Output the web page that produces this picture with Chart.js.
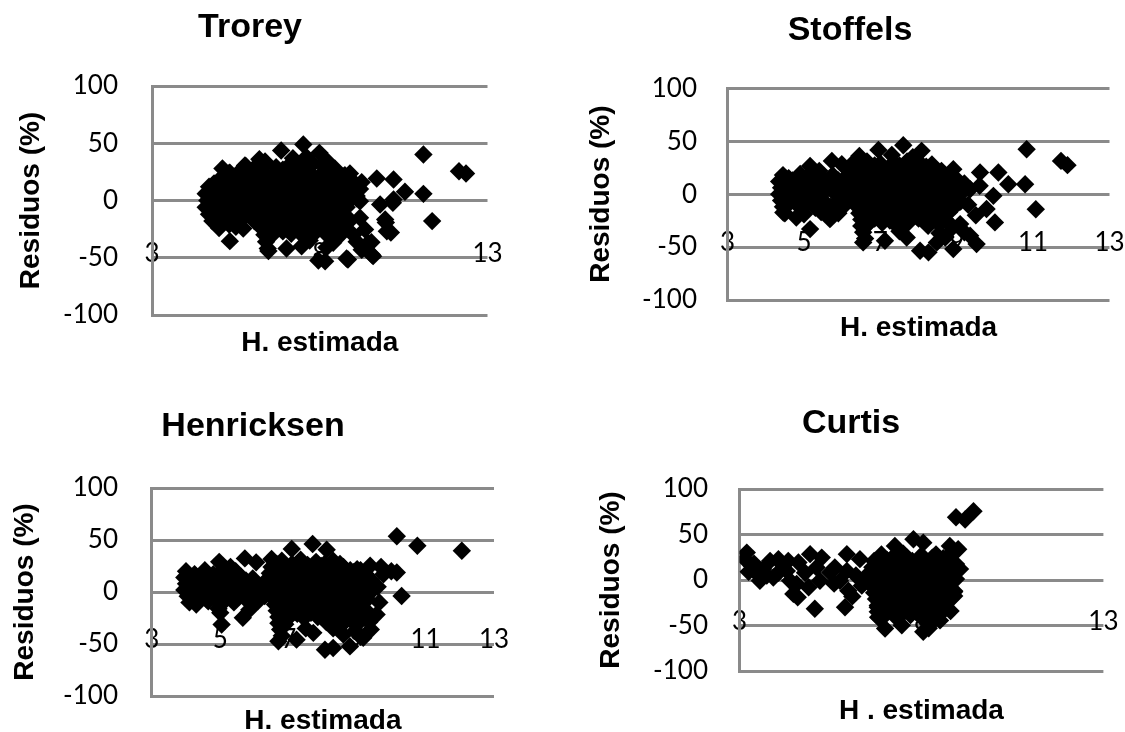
<!DOCTYPE html>
<html>
<head>
<meta charset="utf-8">
<title>Residuos (%) vs H. estimada</title>
<script src="https://cdn.jsdelivr.net/npm/chart.js@4.4.1/dist/chart.umd.min.js"></script>
<style>
  html, body { margin: 0; padding: 0; background: #fff; overflow: hidden; width: 1125px; height: 732px; }
  canvas { position: absolute; left: 0; top: 0; }
  .title {
    position: absolute;
    font: bold 34px "Liberation Sans", Arial, sans-serif;
    line-height: 1;
    color: #000;
    white-space: nowrap;
    transform: translate(-50%, -50%);
  }
</style>
</head>
<body>
<canvas id="c1" width="1125" height="800"></canvas>
<canvas id="c2" width="1125" height="800"></canvas>
<canvas id="c3" width="1125" height="800"></canvas>
<canvas id="c4" width="1125" height="800"></canvas>
<div class="title" style="left:250px;top:25px">Trorey</div>
<div class="title" style="left:850px;top:28px">Stoffels</div>
<div class="title" style="left:253px;top:424px">Henricksen</div>
<div class="title" style="left:851px;top:421px">Curtis</div>

<script>
// ===========================
// DATA
// ===========================
const panelTitles = ['Trorey', 'Stoffels', 'Henricksen', 'Curtis'];
const xTitles = ['H. estimada', 'H. estimada', 'H. estimada', 'H . estimada'];
const yTitle = 'Residuos (%)';
const xMin = 3, xMax = 13;
const xTickSteps = [5, 2, 2, 5];
const yTicks = [-100, -50, 0, 50, 100];

// [H. estimada, residuo %]
const troreyPts = [
  [6.2,36],[7.2,37],[7.6,38],[8.2,35],
  [5.8,30],[6.35,31],[6.7,29],[7.1,31],[7.45,30],[7.8,32],[8.15,29],[8.45,28],
  [6.0,27],[6.9,27],[7.6,26],[8.3,27],
  [5.3,24],[5.6,25],[5.95,23],[6.3,25],[6.65,24],[7.0,23],[7.35,25],[7.7,24],[8.05,23],[8.4,25],[8.75,22],
  [5.2,21],[5.8,21],[6.25,20],[6.6,21],[6.95,21],[7.3,20],[7.65,21],[8.0,21],[8.35,20],[8.7,21],
  [5.0,18],[5.4,19],[5.75,17],[6.1,18],[6.45,19],[6.8,17],[7.15,18],[7.5,19],[7.85,17],[8.2,18],[8.55,19],[8.9,17],[9.25,16],
  [4.85,15],[5.2,15],[5.55,14],[5.95,15],[6.3,15],[6.6,14],[6.95,15],[7.3,15],[7.7,14],[8.05,15],[8.4,15],[8.75,14],[9.05,15],
  [4.7,12],[5.05,13],[5.4,11],[5.75,12],[6.1,13],[6.45,11],[6.8,12],[7.15,13],[7.5,11],[7.85,12],[8.2,13],[8.55,11],[8.9,12],[9.2,10],
  [4.8,9],[5.2,9],[5.55,8],[5.9,9],[6.25,9],[6.6,8],[6.95,9],[7.3,9],[7.65,8],[8.0,9],[8.35,9],[8.7,8],[9.05,9],
  [4.6,6],[4.9,7],[5.25,5],[5.6,6],[5.95,7],[6.3,5],[6.65,6],[7.0,7],[7.35,5],[7.7,6],[8.05,7],[8.4,5],[8.75,6],[9.1,4],
  [4.8,3],[5.15,3],[5.55,2],[5.9,3],[6.25,3],[6.6,2],[6.95,3],[7.3,3],[7.65,2],[8.0,3],[8.4,3],[8.75,2],[9.1,2],
  [4.65,0],[5.0,1],[5.4,-1],[5.75,0],[6.1,1],[6.45,-1],[6.8,0],[7.15,1],[7.5,-1],[7.85,0],[8.2,1],[8.55,-1],[8.9,0],
  [4.8,-3],[5.15,-3],[5.5,-2],[5.9,-3],[6.25,-3],[6.55,-2],[6.9,-3],[7.25,-3],[7.6,-2],[7.95,-3],[8.3,-3],[8.65,-2],
  [4.6,-6],[4.95,-5],[5.3,-7],[5.65,-6],[6.0,-5],[6.35,-7],[6.7,-6],[7.05,-5],[7.4,-7],[7.75,-6],[8.1,-5],[8.45,-7],[8.8,-6],
  [4.75,-9],[5.15,-9],[5.5,-8],[5.85,-9],[6.2,-9],[6.5,-8],[6.85,-9],[7.2,-9],[7.55,-8],[7.9,-9],[8.25,-9],[8.6,-8],
  [4.7,-12],[5.05,-11],[5.4,-13],[5.8,-12],[6.2,-11],[6.55,-13],[6.9,-12],[7.25,-11],[7.6,-13],[7.95,-12],[8.3,-11],[8.65,-13],
  [4.9,-15],[5.25,-15],[5.6,-14],[6.0,-15],[6.4,-15],[6.7,-14],[7.05,-15],[7.4,-15],[7.75,-14],[8.1,-15],[8.45,-15],[8.8,-14],
  [4.8,-18],[5.2,-17],[5.6,-19],[6.05,-18],[6.35,-17],[6.75,-19],[7.1,-18],[7.45,-17],[7.8,-19],[8.15,-18],[8.5,-17],[8.85,-19],
  [5.3,-21],[6.25,-21],[6.55,-20],[6.9,-21],[7.25,-21],[7.6,-20],[7.95,-21],[8.3,-21],[8.65,-20],
  [5.0,-24],[5.5,-23],[6.3,-25],[6.6,-24],[6.95,-23],[7.3,-25],[7.7,-24],[8.05,-23],[8.4,-25],[8.75,-24],
  [6.45,-27],[6.9,-27],[7.4,-28],[7.9,-27],[8.45,-27],
  [6.35,-30],[6.55,-31],[7.15,-29],[7.6,-30],[8.25,-31],[8.65,-29],[9.0,-30],
  [6.4,-36],[7.7,-35],[8.4,-37],[9.1,-36],
  [6.45,-42],[8.2,-41],[9.25,-43],
  [6.85,43.7],[7.51,48.9],[7.99,41.6],[6.37,34],[5.77,30.6],[5.32,24.2],[5.1,28],
  [5.32,-35.5],[5.72,-24.5],[6.47,-44.2],[7.01,-41.9],[7.96,-52.4],[8.16,-53],[8.8,-50.7],[9.55,-47.2],
  [9.45,-37],[10,-26.8],[9.95,-16.6],[9.2,-15.1],[8.55,-28.2],[7.46,-39.9],[9.35,-25.3],[9.8,-3.5],
  [10.2,0.9],[9.2,-0.6],[10.12,-28],[9.97,-19.2],[10.18,-2],[9.54,-36.4],[9.59,-48.6],[8.84,-51.5],
  [8.9,23.6],[9.7,19.2],[10.2,18.3],[10.54,7.6],[11.09,5.8],[11.09,40.2],[11.35,-18],[12.15,25.6],[12.36,23.6]
];

const stoffelsPts = [
  [4.45,18],[4.9,19],[5.3,17],[5.75,18],
  [4.6,15],[5.05,15],[5.5,15],
  [4.35,12],[4.7,13],[5.05,11],[5.5,12],[5.9,13],
  [4.55,9],[5.7,9],
  [4.4,6],[4.75,7],[5.1,5],[5.35,7],[5.65,6],[6.0,5],
  [4.5,3],[5.1,3],[5.55,3],
  [4.35,0],[4.6,1],[4.95,-1],[5.3,0],[5.8,1],[6.1,-1],
  [4.4,-6],[4.8,-5],[5.15,-7],[5.5,-6],[5.95,-5],
  [4.6,-9],[5.05,-9],[5.5,-9],
  [4.45,-12],[4.85,-11],[5.3,-13],[5.7,-12],[6.05,-11],
  [4.5,-18],[5.0,-19],[5.45,-17],[5.9,-18],
  [5.16,26.7],[5.73,31.4],[5.99,28.3],[5.16,-33],[5.68,-23.6],[4.46,-17.3],[4.8,-22],[5.4,22],
  [6.45,36],[7.3,37],[7.85,35],
  [6.3,30],[6.65,31],[7.0,29],[7.35,30],[7.7,31],[8.05,29],[8.35,28],
  [6.5,27],[6.85,27],[7.5,27],[8.2,26],
  [6.2,24],[6.5,25],[6.85,23],[7.2,24],[7.55,25],[7.9,23],[8.25,24],[8.6,22],
  [6.35,21],[6.7,21],[7.05,20],[7.4,21],[7.75,21],[8.1,20],[8.45,21],
  [6.15,18],[6.5,19],[6.7,17],[7.05,18],[7.4,19],[7.75,17],[8.1,18],[8.45,19],[8.8,17],
  [6.3,15],[6.65,15],[6.9,14],[7.25,15],[7.6,15],[7.95,14],[8.3,15],[8.65,15],[9.0,14],
  [6.2,12],[6.5,13],[6.85,11],[7.2,12],[7.55,13],[7.9,11],[8.25,12],[8.6,13],[8.95,11],[9.2,10],
  [6.35,9],[6.7,9],[7.05,8],[7.4,9],[7.75,9],[8.1,8],[8.45,9],[8.8,9],
  [6.25,6],[6.4,7],[6.7,5],[7.05,6],[7.4,7],[7.75,5],[8.1,6],[8.45,7],[8.8,5],[9.1,4],
  [6.4,3],[6.7,3],[7.05,2],[7.4,3],[7.75,3],[8.1,2],[8.45,3],[8.8,3],[9.15,2],
  [6.3,0],[6.5,1],[6.85,-1],[7.2,0],[7.55,1],[7.9,-1],[8.25,0],[8.6,1],[8.95,-1],
  [6.5,-3],[6.7,-3],[7.05,-2],[7.4,-3],[7.75,-3],[8.1,-2],[8.45,-3],[8.8,-3],
  [6.35,-6],[6.7,-5],[7.05,-7],[7.4,-6],[7.75,-5],[8.1,-7],[8.45,-6],[8.8,-5],[9.1,-7],
  [6.55,-9],[6.7,-9],[7.05,-8],[7.4,-9],[7.75,-9],[8.1,-8],[8.45,-9],[8.8,-9],[9.05,-8],
  [6.4,-12],[6.85,-11],[7.2,-13],[7.55,-12],[7.9,-11],[8.25,-13],[8.6,-12],[8.95,-11],
  [6.6,-15],[7.05,-15],[7.4,-14],[7.75,-15],[8.1,-15],[8.45,-14],[8.8,-15],
  [6.45,-18],[6.7,-17],[7.05,-19],[7.4,-18],[7.75,-17],[8.1,-19],[8.45,-18],[8.8,-17],
  [6.6,-21],[6.9,-21],[7.25,-20],[7.6,-21],[7.95,-21],[8.3,-20],[8.6,-21],
  [6.5,-24],[6.85,-23],[7.25,-25],[7.6,-24],[8.0,-23],[8.35,-25],[8.7,-24],
  [6.7,-27],[7.05,-27],[7.7,-28],[8.5,-27],
  [6.5,-30],[6.6,-31],[7.45,-29],[8.25,-30],[8.9,-31],
  [6.55,-36],[7.5,-35],[8.55,-37],[9.2,-36],
  [6.6,-42],[8.7,-41],
  [6.95,41.8],[7.6,46.2],[8.08,40.9],[6.42,33],[9.61,20.4],[10.09,20.4],[10.35,9.4],[9.96,-1.6],
  [9.78,-14],[10.0,-26.7],[8.91,23.6],[9.35,4.7],[10.83,42.4],[10.79,9.4],[11.07,-14.2],[11.73,31.4],
  [11.9,27.4],[8.04,-53.5],[8.26,-55],[8.48,-45.6],[7.12,-44],[7.69,-40.9],[7.43,-29.9],[6.55,-45.6],
  [8.91,-51.9],[9.52,-47.2],[9.35,-39.3],[9.09,-28.3],[8.7,-40],[8.12,-23.6],[8.56,-28.3],[9.5,-20],
  [9.3,-10],[9.6,8]
];

const henricksenPts = [
  [4.0,20],[4.55,21],[5.0,19],[5.45,20],
  [4.25,17],[4.8,17],[5.25,17],
  [3.95,14],[4.3,15],[4.7,13],[5.1,14],[5.6,15],[5.95,13],
  [4.15,11],[4.55,11],[4.95,11],[5.4,11],[5.75,11],
  [4.0,8],[4.35,9],[4.75,7],[5.2,8],[5.5,9],[5.9,7],[6.25,8],
  [4.15,5],[4.55,5],[4.95,5],[5.35,5],[5.7,5],[6.05,5],
  [3.95,2],[4.25,3],[4.6,1],[5.0,2],[5.35,3],[5.75,1],[6.1,2],
  [4.15,-1],[4.45,-1],[4.8,-1],[5.2,-1],[5.55,-1],[5.95,-1],
  [4.05,-4],[4.4,-3],[4.8,-5],[5.15,-4],[5.55,-3],[5.95,-5],[6.3,-4],
  [4.25,-7],[4.6,-7],[5.0,-7],[5.35,-7],[5.75,-7],
  [4.1,-10],[4.65,-9],[5.05,-11],[5.4,-10],[6.1,-9],
  [4.95,-16],[5.85,-17],
  [4.97,29],[5.72,32.3],[6.05,28.5],[6.5,31.7],[5.04,-31.3],[5.66,-24.8],[4.3,-12],[5.3,24],[5.0,-20],
  [6.8,30],[7.35,31],[7.8,29],[8.3,30],
  [6.65,27],[7.1,27],[7.55,26],[8.05,27],[8.5,27],
  [6.5,24],[6.9,25],[7.25,23],[7.6,24],[7.95,25],[8.3,23],[8.6,24],[9.0,22],
  [6.65,21],[7.0,21],[7.35,20],[7.75,21],[8.1,21],[8.45,20],[8.8,21],[9.1,21],
  [6.45,18],[6.8,19],[7.15,17],[7.5,18],[7.85,19],[8.2,17],[8.55,18],[8.9,19],[9.25,17],
  [6.6,15],[6.95,15],[7.3,14],[7.7,15],[8.05,15],[8.4,14],[8.75,15],[9.1,15],
  [6.4,12],[6.6,13],[6.95,11],[7.3,12],[7.65,13],[8.0,11],[8.35,12],[8.7,13],[9.05,11],[9.4,12],
  [6.6,9],[6.95,9],[7.3,8],[7.7,9],[8.05,9],[8.4,8],[8.75,9],[9.1,9],
  [6.45,6],[6.8,7],[7.15,5],[7.5,6],[7.85,7],[8.2,5],[8.55,6],[8.9,7],[9.25,5],
  [6.6,3],[6.85,3],[7.2,2],[7.55,3],[7.9,3],[8.25,2],[8.6,3],[8.95,3],[9.25,2],
  [6.5,0],[6.65,1],[7.0,-1],[7.35,0],[7.7,1],[8.05,-1],[8.4,0],[8.75,1],[9.1,-1],[9.4,0],
  [6.7,-3],[7.05,-3],[7.4,-2],[7.75,-3],[8.1,-3],[8.45,-2],[8.8,-3],[9.15,-3],
  [6.55,-6],[6.85,-5],[7.2,-7],[7.55,-6],[7.9,-5],[8.25,-7],[8.6,-6],[8.95,-5],[9.3,-7],
  [6.75,-9],[7.2,-9],[7.55,-8],[7.9,-9],[8.25,-9],[8.6,-8],[8.95,-9],
  [6.6,-12],[7.0,-11],[7.35,-13],[7.7,-12],[8.05,-11],[8.4,-13],[8.75,-12],[9.1,-11],
  [6.8,-15],[7.05,-15],[7.4,-14],[7.75,-15],[8.1,-15],[8.45,-14],[8.8,-15],[9.15,-15],
  [6.65,-18],[6.85,-17],[7.2,-19],[7.55,-18],[7.9,-17],[8.25,-19],[8.6,-18],[8.95,-17],[9.3,-19],
  [6.85,-21],[7.25,-21],[7.65,-20],[8.05,-21],[8.6,-21],[9.0,-20],
  [6.7,-24],[7.05,-23],[7.45,-25],[7.85,-24],[8.4,-23],[8.8,-25],[9.15,-24],
  [6.85,-27],[8.35,-27],[8.85,-28],
  [6.7,-30],[6.9,-31],[8.1,-29],[8.6,-30],[9.0,-31],[9.35,-29],
  [6.75,-36],[8.3,-35],[8.95,-37],[9.4,-36],
  [6.8,-42],[8.6,-41],[9.1,-43],
  [10.16,53.6],[10.76,44.5],[12.06,39.7],[7.09,41.3],[7.7,46.2],[8.11,40.7],[10.16,18.8],[10.3,-3.9],
  [9.38,25.2],[9.77,17.1],[9.6,5],[9.65,-10],[6.7,-47.4],[7.23,-45.8],[8.06,-55.5],[8.3,-53.8],
  [8.79,-52.3],[9.18,-44.1],[7.72,-39.3],[9.57,-21.6],[8.99,-26.4],[7.5,-35],[9.7,24],[10.0,20]
];

const curtisPts = [
  [3.2,30.1],[3.15,22.9],[3.33,15.6],[3.25,9],[3.65,12],[3.84,21],[4.07,22.9],[4.34,21],[4.62,19.2],
  [4.3,10],[3.93,2.8],[3.56,-0.8],[4.94,28.4],[5.26,24.6],[5.12,13.7],[4.8,8],[4.57,-4.4],[4.48,-15.3],
  [4.9,-8],[5.21,-0.8],[5.07,-31.6],[4.6,-19],[5.95,28.4],[6.31,22.9],[5.62,13.7],[5.95,10],[6.2,5],
  [5.76,-0.8],[5.99,-11.7],[5.9,-29.9],[6.1,-18],[6.36,-6.2],[6.5,5],
  [3.4,18],[3.5,6],[4.07,8.3],[4.39,-0.8],[5.49,8.3],[5.6,-4],[4.2,16],[3.75,5],
  [6.9,28],[7.5,29],[8.0,27],[8.4,28],[8.75,27],
  [7.2,24.5],[7.6,24.5],[7.95,24],[8.3,24.5],[8.6,24],
  [6.7,21],[7.05,22],[7.4,20],[7.75,21],[8.1,22],[8.45,20],[8.8,21],
  [6.85,17.5],[7.2,17.5],[7.55,17],[7.9,17.5],[8.25,17.5],[8.6,17],[8.95,17.5],
  [6.65,14],[6.85,15],[7.2,13],[7.55,14],[7.9,15],[8.25,13],[8.6,14],[8.95,15],
  [6.8,10.5],[7.2,10.5],[7.55,10],[7.9,10.5],[8.25,10.5],[8.6,10],[8.95,10.5],
  [6.6,7],[6.75,8],[7.05,6],[7.4,7],[7.75,8],[8.1,6],[8.45,7],[8.8,8],
  [6.75,3.5],[7.05,3.5],[7.4,3],[7.75,3.5],[8.1,3.5],[8.45,3],[8.8,3.5],
  [6.6,0],[6.85,1],[7.2,-1],[7.55,0],[7.9,1],[8.25,-1],[8.6,0],[8.95,1],
  [6.75,-3.5],[7.05,-3.5],[7.4,-3],[7.75,-3.5],[8.1,-3.5],[8.45,-3],[8.8,-3.5],
  [6.65,-7],[7.0,-6],[7.35,-8],[7.7,-7],[8.05,-6],[8.4,-8],[8.75,-7],
  [6.8,-10.5],[7.2,-10.5],[7.55,-10],[7.9,-10.5],[8.25,-10.5],[8.6,-10],
  [6.7,-14],[6.85,-13],[7.2,-15],[7.55,-14],[7.9,-13],[8.25,-15],[8.6,-14],[8.9,-13],
  [6.9,-17.5],[7.2,-17.5],[7.55,-17],[7.9,-17.5],[8.25,-17.5],[8.6,-17],[8.9,-17.5],
  [6.75,-21],[7.05,-20],[7.4,-22],[7.75,-21],[8.1,-20],[8.45,-22],[8.8,-21],
  [6.9,-24.5],[7.25,-24.5],[7.6,-24],[7.95,-24.5],[8.3,-24.5],[8.65,-24],
  [6.8,-28],[6.95,-27],[7.25,-29],[7.6,-28],[7.95,-27],[8.3,-29],[8.65,-28],
  [6.95,-31.5],[7.3,-31.5],[7.7,-31],[8.05,-31.5],[8.4,-31.5],
  [6.8,-35],[7.1,-34],[7.5,-36],[7.85,-35],[8.2,-34],[8.55,-36],
  [7.0,-38.5],[7.7,-38.5],[8.25,-38],
  [6.85,-42],[7.3,-41],[8.05,-43],[8.4,-42],
  [9.43,75.6],[9.2,66.5],[8.95,69],[7.27,37.4],[7.78,44.7],[8.05,41],[8.78,37.4],[9.01,33.8],
  [9.06,12],[8.9,-12],[7.0,-53.4],[7.46,-49.8],[8.05,-57],[8.2,-53],[8.51,-44.4],[8.8,-34],
  [6.81,-40.8],[6.8,-30]
];

const panelPoints = [troreyPts, stoffelsPts, henricksenPts, curtisPts];

// ===========================
// LAYOUT (page pixels)
// ===========================
const CANVAS_W = 1125, CANVAS_H = 800;
const panelBoxes = [
  { left: 152,   right: 487.5,  top: 86,   bottom: 315, yTitleX: 31,  xTitleY: 335, tickRight: 118 },
  { left: 727.6, right: 1109.5, top: 88.3, bottom: 300, yTitleX: 601, xTitleY: 320, tickRight: 697 },
  { left: 151.8, right: 494,    top: 488,  bottom: 696, yTitleX: 25,  xTitleY: 713, tickRight: 118 },
  { left: 739.5, right: 1103.4, top: 489,  bottom: 671, yTitleX: 611, xTitleY: 703, tickRight: 708 }
];

const GRID = '#8a8a8a';
const TICK_SIZE = 26, TITLE_SIZE = 28;
const MARKER_R = 9.2;   // rectRot radius; gives a ~13px wide diamond
const tickFont = { family: 'Lato', size: TICK_SIZE };
const titleFont = { family: '"Liberation Sans", Arial', size: TITLE_SIZE, weight: 'bold' };

/**
 * Build one residual scatter panel on its own (page-sized) canvas
 */
function buildPanel(i) {
  const box = panelBoxes[i];
  const tickLH = TICK_SIZE * 1.2, titleLH = TITLE_SIZE * 1.2;
  const tickPad = -27.6;                       // pulls x labels up onto the -50 line
  const y50 = box.top + (box.bottom - box.top) * 0.75;
  const titlePadTop = box.xTitleY - (y50 + tickLH + 2 * tickPad + titleLH / 2);
  const padLeft = box.yTitleX - titleLH / 2;

  return new Chart(document.getElementById('c' + (i + 1)), {
    type: 'scatter',
    data: {
      datasets: [{
        data: panelPoints[i].map(([x, y]) => ({ x, y })),
        pointStyle: 'rectRot',
        pointRadius: MARKER_R,
        pointHoverRadius: MARKER_R,
        backgroundColor: '#000',
        borderWidth: 0
      }]
    },
    options: {
      responsive: false,
      animation: false,
      devicePixelRatio: 1,
      events: [],
      layout: {
        // the x axis sits on the -50 line, so it takes no room at the bottom
        padding: {
          left: padLeft,
          right: CANVAS_W - box.right,
          top: box.top,
          bottom: CANVAS_H - box.bottom
        }
      },
      plugins: { legend: { display: false }, tooltip: { enabled: false } },
      scales: {
        x: {
          type: 'linear',
          position: { y: -50 },
          min: xMin,
          max: xMax,
          grid: { display: false },
          border: { display: false },
          ticks: { stepSize: xTickSteps[i], color: '#000', font: tickFont, padding: tickPad, maxRotation: 0, autoSkip: false },
          // negative bottom padding keeps the axis box small (it is capped at half the plot height)
          title: { display: true, text: xTitles[i], color: '#000', font: titleFont, padding: { top: titlePadTop, bottom: -20 } }
        },
        y: {
          min: yTicks[0],
          max: yTicks[yTicks.length - 1],
          afterBuildTicks: s => { s.ticks = yTicks.map(v => ({ value: v })); },
          grid: { color: GRID, lineWidth: 3, drawTicks: false },
          border: { display: true, color: GRID, width: 3 },
          ticks: { color: '#000', font: tickFont, padding: box.left - box.tickRight },
          title: { display: true, text: yTitle, color: '#000', font: titleFont, padding: 0 },
          afterFit: s => { s.width = box.left - padLeft; }
        }
      }
    }
  });
}

panelTitles.forEach((t, i) => buildPanel(i));
</script>
</body>
</html>
